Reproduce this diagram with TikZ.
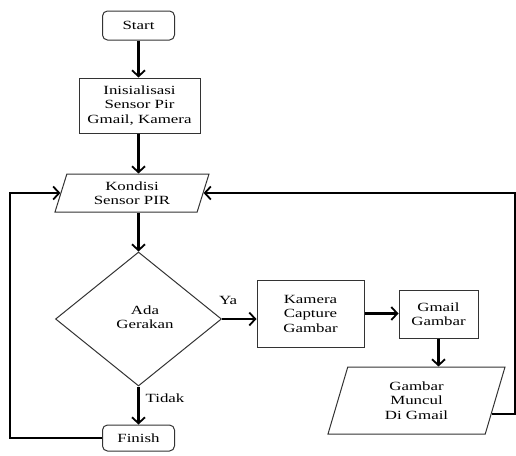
\documentclass[tikz,border=0pt]{standalone}
\usepackage{fontspec}
\setmainfont{Liberation Serif}[FakeStretch=1.35]
\usetikzlibrary{shapes.geometric,arrows.meta,calc}
\begin{document}
\begin{tikzpicture}[x=1pt,y=-1pt,
  every node/.style={font=\fontsize{12.5}{14.5}\selectfont, align=center, inner sep=0pt},
  term/.style={draw=black!80, line width=1pt, rounded corners=5pt},
  proc/.style={draw=black!80, line width=1pt},
  io/.style={draw=black!80, line width=1pt, trapezium, trapezium stretches body,
    trapezium left angle=63, trapezium right angle=117},
  decision/.style={draw=black!80, line width=1pt, diamond, minimum width=166pt, minimum height=134pt},
  conn/.style={line width=2.2pt, -{Straight Barb[length=6pt,width=13pt,line width=1.8pt]}},
  lbl/.style={font=\fontsize{12.5}{14.5}\selectfont}
]
\useasboundingbox (0,0) rectangle (516,455);
\node[term, minimum width=72pt, minimum height=29pt] (start) at (138.5,25.5) {Start};
\node[proc, minimum width=121pt, minimum height=55pt] (init) at (139.5,105.5) {Inisialisasi\\Sensor Pir\\Gmail, Kamera};
\node[io, minimum width=154pt, minimum height=38pt] (kond) at (132,193) {Kondisi\\Sensor PIR};
\node[decision] (dia) at (138.5,319) {};
\node at (145,317) {Ada\\Gerakan};
\node[proc, minimum width=107pt, minimum height=67pt] (kam) at (310.5,313.5) {Kamera\\Capture\\Gambar};
\node[proc, minimum width=79pt, minimum height=48pt] (gmail) at (438.5,314) {Gmail\\Gambar};
\node[io, minimum width=177pt, minimum height=67pt, trapezium left angle=62.4, trapezium right angle=117.6] (muncul) at (416.5,400.5) {Gambar\\Muncul\\Di Gmail};
\node[term, minimum width=72pt, minimum height=26pt] (fin) at (138.5,438) {Finish};
\node[lbl] (ya) at (228,300) {Ya};
\node[lbl] (tidak) at (165,398) {Tidak};
\coordinate (lx) at (10,0);
\coordinate (rx) at (515,0);
\coordinate (mr) at ($(muncul.bottom right corner)!0.3!(muncul.top right corner)$);

\draw[conn] (start.south) -- (start.south |- init.north);
\draw[conn] (init.south -| start.south) -- (start.south |- kond.north);
\draw[conn] (start.south |- kond.south) -- (dia.north);
\draw[conn] (dia.east) -- (dia.east -| kam.west);
\draw[conn] (kam.east) -- (kam.east -| gmail.west);
\draw[conn] (gmail.south) -- (gmail.south |- muncul.north);
\draw[conn] (dia.south) -- (fin.north);
\draw[conn] (fin.west) -- (fin.west -| lx) -- (lx |- kond.west) -- (kond.west);
\draw[conn] (mr) -- (mr -| rx) -- (rx |- kond.east) -- (kond.east);
\end{tikzpicture}
\end{document}
